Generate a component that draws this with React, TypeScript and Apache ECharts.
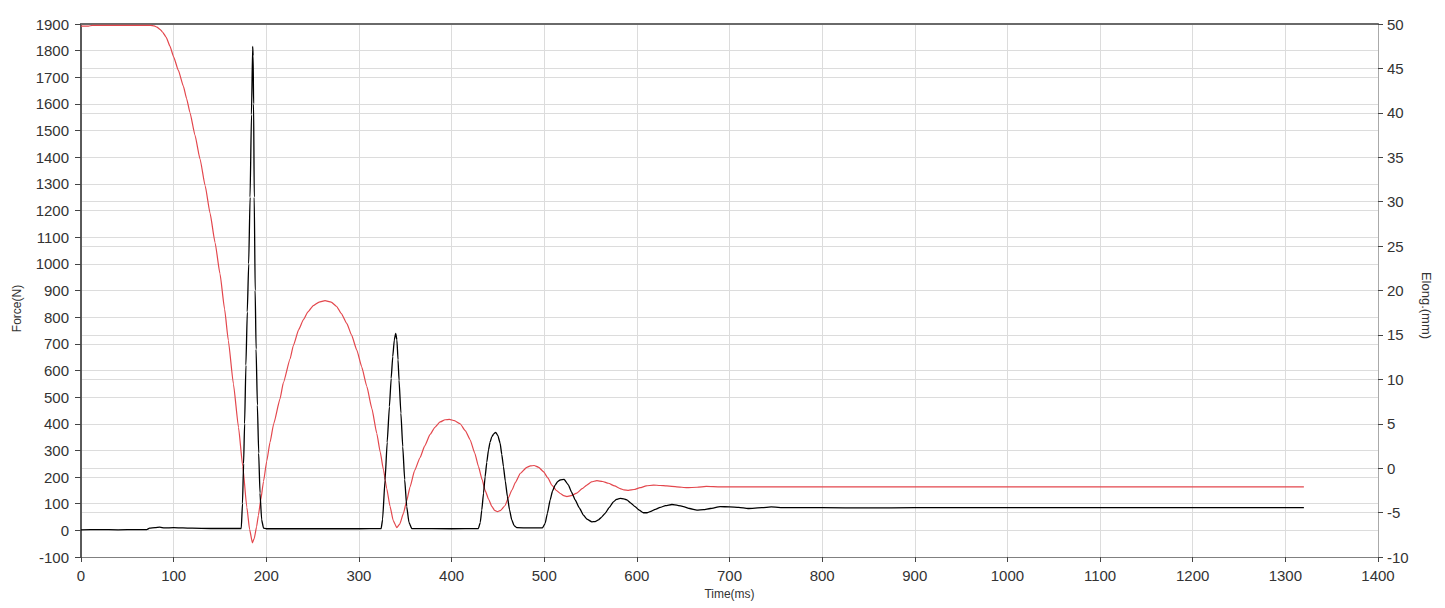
import React, { useEffect, useRef } from "react";
import * as echarts from "echarts";

// Time axis ticks (ms)
const timeTicks = [0, 1400, 100];

// Force (N) trace — black, left axis
const forceTime = [
  0, 20, 40, 60, 71, 74, 80, 85, 90, 100, 110, 120, 140, 160, 173,
  174.3, 175.5, 176.6, 178, 179.5, 181, 182.5, 184, 185.3, 185.8, 186.3, 187, 188, 189, 190.4, 191.8, 193.2, 195, 197,
  200, 250, 300, 324, 325.5, 328.2, 330.5, 332.9, 334.8, 336.5, 338.2, 339.7, 341, 342.2, 343.3, 345.3, 347.3, 349.4, 351.6, 354, 357,
  400, 429, 431, 432.6, 434.5, 436.2, 438, 439.8, 441.5, 443.4, 445.5, 447.7, 450, 452.4, 454.2, 456, 458, 460.3, 462.5, 465, 467.5, 470.4,
  485, 498, 501, 503.5, 506.4, 509, 511.8, 514.5, 517.2, 521.5, 526.2, 529.5, 533.4, 538, 542.3, 546.5, 551.4, 555, 558.5, 562, 565.8,
  570, 574.7, 578, 582, 586, 589.2, 593.5, 598.1, 602.5, 607.1, 611, 614.3, 620, 625.1, 631, 637.8, 644, 650.3, 657, 664.8, 672, 679.1,
  689.9, 700, 710, 720, 735, 745, 760, 800, 850, 900, 1000, 1100, 1200, 1320,
];
const forceValues = [
  2, 3, 2, 3, 3, 8, 10, 12, 9, 10, 9, 8, 7, 7, 7,
  100, 250, 400, 620, 820, 1000, 1250, 1560, 1816, 1780, 1600, 1250, 900, 680, 470, 290, 140, 40, 8,
  6, 6, 6, 7, 40, 189, 330, 464, 570, 652, 715, 739, 715, 640, 564, 440, 314, 190, 89, 30, 7,
  6, 7, 30, 76, 140, 201, 255, 301, 330, 351, 362, 368, 355, 327, 285, 239, 185, 126, 78, 39, 18, 10,
  9, 9, 26, 65, 114, 148, 170, 183, 189, 191, 170, 143, 114, 84, 57, 41, 32, 33, 39, 50, 64,
  85, 107, 116, 120, 118, 114, 102, 89, 76, 66, 66, 70, 79, 86, 93, 97, 94, 89, 82, 76, 78, 82,
  89, 88, 86, 82, 85, 88, 85, 85, 84, 85, 85, 85, 85, 85,
];

// Elongation (mm) trace — red, right axis
const elongTime = [
  0, 8, 12, 75, 79, 82, 85.3, 88, 92, 96, 100, 105, 110.5, 114, 117.7, 123, 128.5,
  134, 139.3, 144.7, 150, 155, 159, 164.5, 170, 174.6, 179, 182, 185, 187, 189.5, 191.5, 194, 197,
  200.5, 204, 208, 214.8, 218.4, 225.7, 229.2, 235, 240, 245, 250.8, 257, 263.4, 270, 276, 281, 286.9,
  292, 297.7, 303, 308.5, 314, 319.3, 323, 326.5, 330, 333.6, 337, 340.9, 344, 348, 351.5, 355.2, 360,
  366, 371, 376.8, 382, 387.6, 393, 397.7, 403, 409.2, 415, 420, 425, 429, 433, 436.2, 440, 443.4,
  446.5, 449.5, 453, 457.8, 461, 465, 469, 474, 481.2, 485, 489.1, 494, 499.2, 504, 508.2, 513, 517.3,
  521, 524.5, 529, 535.2, 541, 546, 551, 556.8, 563, 569.3, 576, 582, 586, 591, 597, 603.5, 610, 618,
  625, 632.3, 643, 654, 665, 675, 690, 800, 900, 1000, 1100, 1200, 1320,
];
const elongValues = [
  49.75, 49.75, 49.85, 49.85, 49.8, 49.65, 49.4, 49.1, 48.5, 47.5, 46.3, 44.8, 43.0, 41.6, 40.0, 37.5, 34.8,
  31.8, 28.7, 25.4, 21.9, 17.9, 14.4, 9.5, 4.6, 0.2, -4.4, -6.9, -8.4, -7.9, -6.6, -5.3, -3.6, -1.5,
  0.8, 2.9, 5.0, 7.8, 9.6, 12.3, 13.8, 15.6, 16.7, 17.6, 18.3, 18.7, 18.85, 18.7, 18.2, 17.4, 16.3,
  15.0, 13.3, 11.4, 9.2, 6.7, 3.9, 1.8, -0.2, -2.3, -4.3, -5.9, -6.7, -6.3, -5.1, -3.7, -2.1, -0.3,
  1.2, 2.5, 3.8, 4.6, 5.2, 5.45, 5.5, 5.35, 5.0, 4.2, 3.2, 1.7, 0.2, -1.3, -2.5, -3.5, -4.3,
  -4.75, -4.9, -4.75, -4.2, -3.4, -2.5, -1.6, -0.6, 0.1, 0.25, 0.3, 0.1, -0.4, -1.1, -1.9, -2.5, -2.85,
  -3.1, -3.2, -3.1, -2.8, -2.3, -1.9, -1.55, -1.4, -1.5, -1.7, -2.0, -2.3, -2.45, -2.5, -2.4, -2.2, -2.0, -1.9,
  -1.95, -2.0, -2.1, -2.2, -2.15, -2.05, -2.1, -2.1, -2.1, -2.1, -2.1, -2.1, -2.1,
];

const forceRange = [-100, 1900, 100];
const elongRange = [-10, 50, 5];

const FONT = "'Liberation Sans', Arial, sans-serif";
const GRID_COLOR = "#dcdcdc";

export default function App() {
  const ref = useRef<HTMLDivElement>(null);

  useEffect(() => {
    if (!ref.current) return;
    const chart = echarts.init(ref.current, undefined, { renderer: "svg" });
    const forceData = forceTime.map((t, i) => [t, forceValues[i]]);
    const elongData = elongTime.map((t, i) => [t, elongValues[i]]);

    const plain = (v: number) => String(v);
    const labelStyle = { color: "#333", fontSize: 15, fontFamily: FONT, formatter: plain };
    const nameStyle = { color: "#333", fontSize: 12, fontFamily: FONT };

    chart.setOption({
      animation: false,
      backgroundColor: "#fff",
      grid: { left: 81, right: 67, top: 24, bottom: 51, containLabel: false },
      xAxis: [
        {
          type: "value",
          position: "bottom",
          min: timeTicks[0],
          max: timeTicks[1],
          interval: timeTicks[2],
          name: "Time(ms)",
          nameLocation: "middle",
          nameGap: 31,
          nameTextStyle: nameStyle,
          axisLine: { show: true, onZero: false, lineStyle: { color: "#808080", width: 1 } },
          axisTick: { show: true, length: 5, lineStyle: { color: "#444" } },
          axisLabel: { ...labelStyle, margin: 11 },
          splitLine: { show: true, lineStyle: { color: GRID_COLOR, width: 1 } },
        },
        {
          type: "value",
          position: "top",
          min: timeTicks[0],
          max: timeTicks[1],
          interval: timeTicks[2],
          axisLine: { show: true, onZero: false, lineStyle: { color: "#6a6a6a", width: 2 } },
          axisTick: { show: false },
          axisLabel: { show: false },
          splitLine: { show: false },
        },
      ],
      yAxis: [
        {
          type: "value",
          position: "left",
          min: forceRange[0],
          max: forceRange[1],
          interval: forceRange[2],
          name: "Force(N)",
          nameLocation: "middle",
          nameGap: 58,
          nameRotate: 90,
          nameTextStyle: { ...nameStyle, padding: [0, 36, 0, 0] },
          axisLine: { show: true, onZero: false, lineStyle: { color: "#5a5a5a", width: 2 } },
          axisTick: { show: true, length: 6, lineStyle: { color: "#444" } },
          axisLabel: { ...labelStyle, margin: 12 },
          splitLine: { show: true, lineStyle: { color: GRID_COLOR, width: 1 } },
        },
        {
          type: "value",
          position: "right",
          min: elongRange[0],
          max: elongRange[1],
          interval: elongRange[2],
          name: "Elong.(mm)",
          nameLocation: "middle",
          nameGap: 38,
          nameRotate: -90,
          nameTextStyle: { ...nameStyle, fontSize: 13, padding: [0, 0, 0, 30] },
          axisLine: { show: true, onZero: false, lineStyle: { color: "#aaaaaa", width: 1 } },
          axisTick: { show: true, length: 5, lineStyle: { color: "#444" } },
          axisLabel: { ...labelStyle, margin: 9 },
          splitLine: { show: true, lineStyle: { color: GRID_COLOR, width: 1 } },
        },
      ],
      series: [
        {
          name: "Elong.(mm)",
          type: "line",
          xAxisIndex: 0,
          yAxisIndex: 1,
          data: elongData,
          showSymbol: false,
          smooth: 0.15,
          smoothMonotone: "x",
          lineStyle: { color: "#e3474d", width: 1.2 },
          z: 3,
        },
        {
          name: "Force(N)",
          type: "line",
          xAxisIndex: 0,
          yAxisIndex: 0,
          data: forceData,
          showSymbol: false,
          smooth: 0.15,
          smoothMonotone: "x",
          lineStyle: { color: "#000000", width: 1.3 },
          z: 4,
        },
      ],
    });
    return () => chart.dispose();
  }, []);

  return (
    <div
      ref={ref}
      style={{ position: "fixed", left: 0, top: 0, width: 1445, height: 608, background: "#fff" }}
    />
  );
}
